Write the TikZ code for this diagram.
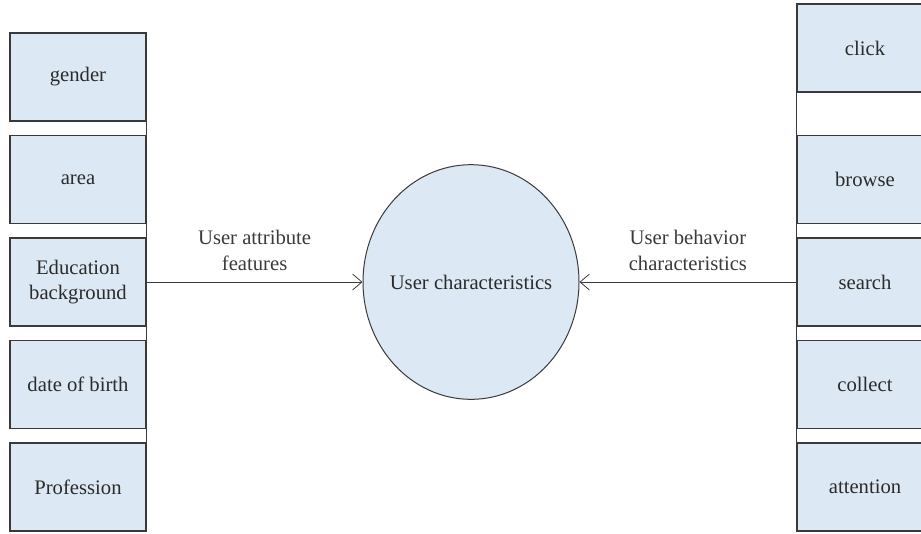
\documentclass[tikz,border=0pt]{standalone}
\usepackage{fontspec}
\setmainfont{Liberation Serif}
\usepackage{tikz}
\usetikzlibrary{arrows.meta,positioning,shapes.geometric}
\definecolor{boxfill}{HTML}{DCE8F3}
\definecolor{ink}{HTML}{2B2B2B}
\definecolor{edgegray}{HTML}{3A3A3A}

\begin{document}
\begin{tikzpicture}[x=0.75pt,y=-0.75pt,
    font=\fontsize{15.5}{19}\selectfont,text=ink,
    featbox/.style={draw=edgegray,line width=1.1pt,fill=boxfill,
      minimum width=102pt,minimum height=66pt,inner sep=0pt,align=center},
    hub/.style={ellipse,draw=edgegray,line width=0.75pt,fill=boxfill,
      minimum width=162pt,minimum height=176pt,inner sep=0pt},
    feed/.style={-{Straight Barb[length=7pt,width=12pt]},edgegray,line width=0.6pt}]
  \useasboundingbox (0,0) rectangle (921,533);

  % Left: user attribute features.
  \foreach \i/\lab/\yy in {1/gender/77,2/area/179.5,
    3/{Education\\background}/282,4/date of birth/384.5,5/Profession/487}{
    \node[featbox] (attr\i) at (78,\yy) {\lab};
  }
  \draw[edgegray,line width=1.1pt] (attr1.north east) -- (attr5.south east);

  % Right: user behavior characteristics (cut off at the page edge).
  \foreach \i/\lab/\yy in {1/click/48,2/browse/179.5,
    3/search/282,4/collect/384.5,5/attention/487}{
    \node[featbox] (act\i) at (865,\yy) {\lab};
  }
  \draw[edgegray,line width=1.1pt] (act1.north west) -- (act5.south west);

  % Centre: the characteristics node and its two inputs.
  \node[hub] (user) at (471,282) {\makebox[0pt]{User characteristics}};
  \draw[feed] (attr3.east) -- (user.west)
    node[midway,above=5pt,align=center] {User attribute\\features};
  \draw[feed] (act3.west) -- (user.east)
    node[midway,above=5pt,align=center] {User behavior\\characteristics};
\end{tikzpicture}
\end{document}
